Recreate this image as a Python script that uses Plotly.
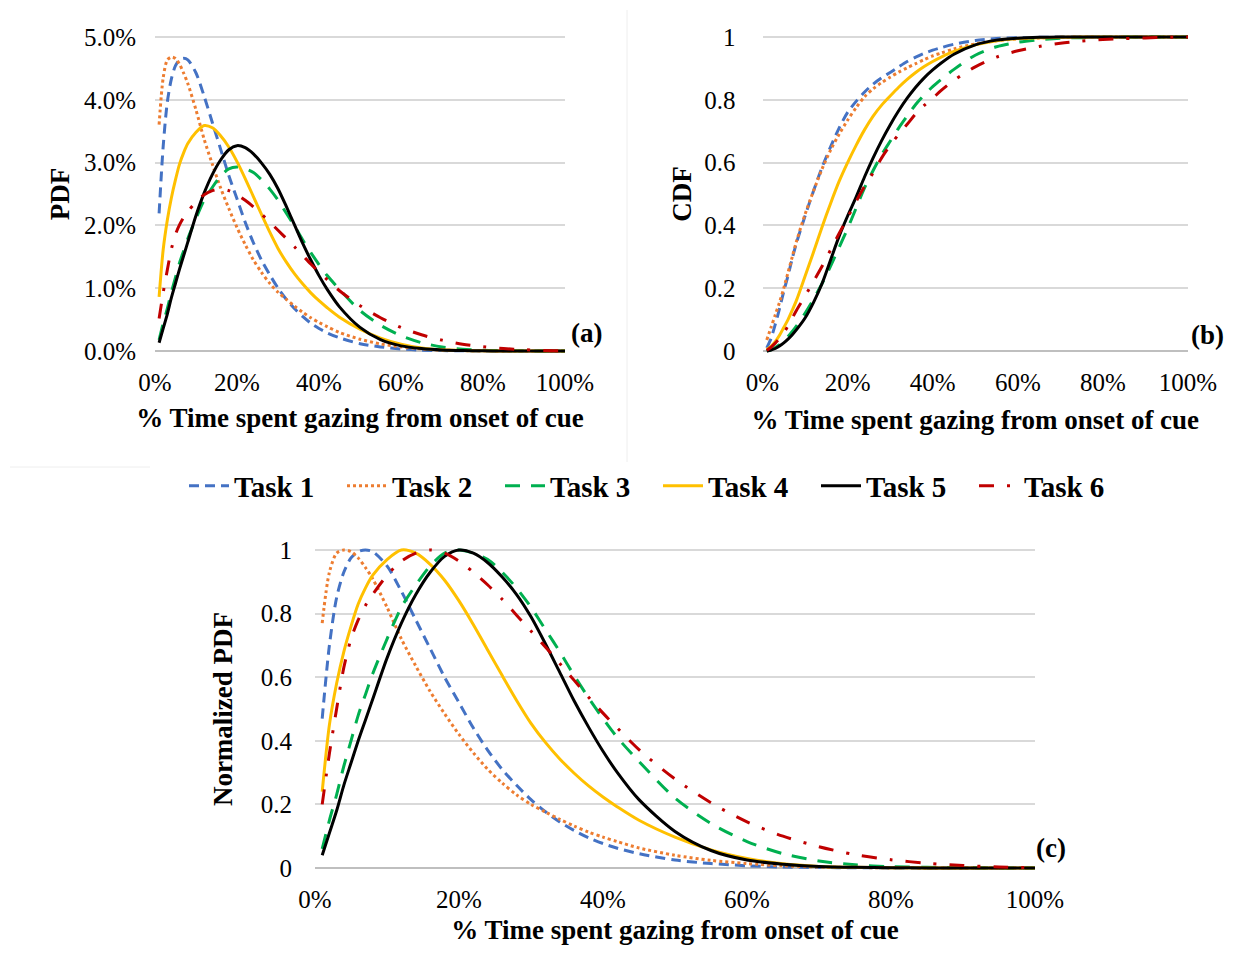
import plotly.graph_objects as go

# page offset of the plot inside the browser (body margin) -> work in page pixels
OFF = 8
W, H = 1234 - 2 * OFF, 953 - 2 * OFF

# ---------------- data ----------------
x_pct = [1, 2, 3, 4, 5, 6, 7, 8, 10, 12, 14, 16, 18, 20, 22, 24, 26, 28, 30, 32, 34,
         36, 38, 40, 42, 45, 50, 55, 60, 65, 70, 75, 80, 85, 90, 95, 100]

tasks = ["Task 1", "Task 2", "Task 3", "Task 4", "Task 5", "Task 6"]

# normalized PDF (panel c)
norm_task1 = [0.47, 0.70, 0.85, 0.93, 0.975, 0.995, 1.0, 0.995, 0.95, 0.87, 0.78, 0.69, 0.60, 0.52,
              0.44, 0.37, 0.31, 0.26, 0.215, 0.177, 0.145, 0.118, 0.095, 0.077, 0.062, 0.045, 0.025,
              0.014, 0.007, 0.003, 0.0015, 0.0007, 0.0003, 0.0001, 0.0, 0.0, 0.0]
norm_task2 = [0.77, 0.93, 0.99, 1.0, 0.995, 0.975, 0.945, 0.91, 0.82, 0.72, 0.635, 0.555, 0.485, 0.42,
              0.362, 0.31, 0.267, 0.23, 0.20, 0.176, 0.153, 0.132, 0.113, 0.097, 0.083, 0.063, 0.04,
              0.024, 0.014, 0.007, 0.003, 0.0015, 0.0007, 0.0003, 0.0001, 0.0, 0.0]
norm_task3 = [0.06, 0.15, 0.23, 0.32, 0.40, 0.48, 0.545, 0.61, 0.72, 0.82, 0.89, 0.95, 0.99, 1.0,
              0.99, 0.97, 0.93, 0.88, 0.82, 0.75, 0.68, 0.605, 0.535, 0.47, 0.41, 0.335, 0.22,
              0.14, 0.083, 0.045, 0.022, 0.01, 0.004, 0.002, 0.001, 0.0, 0.0]
norm_task4 = [0.24, 0.45, 0.58, 0.68, 0.76, 0.83, 0.88, 0.92, 0.97, 1.0, 0.99, 0.955, 0.905, 0.84,
              0.765, 0.685, 0.605, 0.527, 0.455, 0.395, 0.343, 0.298, 0.258, 0.223, 0.192, 0.15, 0.097,
              0.057, 0.03, 0.013, 0.005, 0.002, 0.001, 0.0, 0.0, 0.0, 0.0]
norm_task5 = [0.04, 0.11, 0.18, 0.26, 0.33, 0.40, 0.465, 0.53, 0.66, 0.77, 0.86, 0.93, 0.98, 1.0,
              0.99, 0.96, 0.915, 0.86, 0.79, 0.705, 0.615, 0.525, 0.443, 0.367, 0.3, 0.215, 0.115,
              0.055, 0.025, 0.012, 0.005, 0.002, 0.001, 0.0, 0.0, 0.0, 0.0]
norm_task6 = [0.20, 0.36, 0.50, 0.63, 0.72, 0.78, 0.825, 0.86, 0.92, 0.965, 0.99, 1.0, 0.99, 0.965,
              0.93, 0.89, 0.845, 0.795, 0.745, 0.695, 0.643, 0.59, 0.537, 0.487, 0.44, 0.372, 0.28,
              0.205, 0.145, 0.10, 0.067, 0.042, 0.026, 0.015, 0.008, 0.003, 0.001]

# peak height of each PDF in panel (a), in percent
pdf_peak_pct = [4.66, 4.68, 2.93, 3.59, 3.27, 2.58]

# CDF (panel b)
cdf_task1 = [0.01, 0.04, 0.085, 0.135, 0.19, 0.24, 0.295, 0.345, 0.43, 0.51, 0.585, 0.65, 0.71, 0.76,
             0.795, 0.825, 0.85, 0.87, 0.887, 0.905, 0.922, 0.936, 0.948, 0.958, 0.966, 0.977, 0.989,
             0.995, 0.998, 0.999, 1.0, 1.0, 1.0, 1.0, 1.0, 1.0, 1.0]
cdf_task2 = [0.035, 0.075, 0.115, 0.155, 0.20, 0.25, 0.30, 0.35, 0.435, 0.51, 0.58, 0.64, 0.69, 0.735,
             0.775, 0.81, 0.835, 0.855, 0.872, 0.888, 0.902, 0.915, 0.928, 0.94, 0.949, 0.962, 0.978,
             0.988, 0.994, 0.997, 0.999, 1.0, 1.0, 1.0, 1.0, 1.0, 1.0]
cdf_task3 = [0.0, 0.004, 0.011, 0.02, 0.032, 0.046, 0.062, 0.08, 0.12, 0.165, 0.215, 0.27, 0.33, 0.39,
             0.455, 0.52, 0.575, 0.625, 0.668, 0.71, 0.748, 0.785, 0.815, 0.842, 0.865, 0.897, 0.942,
             0.969, 0.983, 0.991, 0.996, 0.998, 0.999, 1.0, 1.0, 1.0, 1.0]
cdf_task4 = [0.004, 0.015, 0.03, 0.05, 0.075, 0.10, 0.13, 0.162, 0.238, 0.315, 0.395, 0.47, 0.54, 0.60,
             0.655, 0.705, 0.748, 0.783, 0.812, 0.84, 0.865, 0.887, 0.906, 0.922, 0.936, 0.954, 0.975,
             0.988, 0.995, 0.998, 0.999, 1.0, 1.0, 1.0, 1.0, 1.0, 1.0]
cdf_task5 = [0.0, 0.003, 0.008, 0.016, 0.026, 0.038, 0.052, 0.068, 0.105, 0.155, 0.215, 0.29, 0.365, 0.43,
             0.49, 0.555, 0.615, 0.67, 0.72, 0.765, 0.805, 0.84, 0.87, 0.895, 0.917, 0.945, 0.975,
             0.99, 0.996, 0.999, 1.0, 1.0, 1.0, 1.0, 1.0, 1.0, 1.0]
cdf_task6 = [0.002, 0.012, 0.025, 0.04, 0.058, 0.08, 0.105, 0.13, 0.175, 0.222, 0.27, 0.322, 0.374, 0.425,
             0.476, 0.525, 0.568, 0.615, 0.655, 0.69, 0.722, 0.755, 0.782, 0.805, 0.83, 0.862, 0.905,
             0.936, 0.956, 0.97, 0.98, 0.987, 0.992, 0.995, 0.997, 0.999, 1.0]

norms = [norm_task1, norm_task2, norm_task3, norm_task4, norm_task5, norm_task6]
cdfs = [cdf_task1, cdf_task2, cdf_task3, cdf_task4, cdf_task5, cdf_task6]

x_tickvals = [0, 20, 40, 60, 80, 100]
x_ticktext = ["0%", "20%", "40%", "60%", "80%", "100%"]
pdf_tickvals = [0, 0.01, 0.02, 0.03, 0.04, 0.05]
unit_tickvals = [0, 0.2, 0.4, 0.6, 0.8, 1.0]

# ---------------- styles ----------------
colors = ["#4472C4", "#ED7D31", "#00B050", "#FFC000", "#000000", "#C00000"]
dashes = ["10px,6px", "3px,3px", "15px,11px", "solid", "solid", "15px,13px,3px,13px"]
FONT = "Liberation Serif"
GRID = "#d9d9d9"


def px_x(px):
    # page pixel -> paper fraction
    return (px - OFF) / W


def px_y(py):
    return (H - (py - OFF)) / H


def xdom(px0, px1):
    return [px_x(px0), px_x(px1)]


def ydom(py_lo, py_hi, pad):
    span = py_lo - py_hi
    return [px_y(py_lo + pad * span), px_y(py_hi - pad * span)]


PAD = 0.012

fig = go.Figure()

for i, name in enumerate(tasks):
    pdf_vals = [v * pdf_peak_pct[i] / 100.0 for v in norms[i]]
    line = dict(color=colors[i], width=3, dash=dashes[i], shape="spline", smoothing=0.8)
    fig.add_trace(go.Scatter(x=x_pct, y=pdf_vals, mode="lines", name=name, line=line,
                             xaxis="x", yaxis="y", showlegend=True))
    fig.add_trace(go.Scatter(x=x_pct, y=cdfs[i], mode="lines", name=name, line=line,
                             xaxis="x2", yaxis="y2", showlegend=False))
    fig.add_trace(go.Scatter(x=x_pct, y=norms[i], mode="lines", name=name, line=line,
                             xaxis="x3", yaxis="y3", showlegend=False))

tickfont = dict(family=FONT, size=25, color="black")
titlefont = dict(family=FONT, size=27, color="black", weight="bold")

xcommon = dict(range=[0, 100], tickmode="array", tickvals=x_tickvals, ticktext=x_ticktext,
               showgrid=False, zeroline=False, showline=False, ticks="", tickfont=tickfont,
               ticklabelstandoff=10, fixedrange=True, automargin=False)
ycommon = dict(showgrid=True, gridcolor=GRID, gridwidth=1.6, zeroline=True,
               zerolinecolor="#bfbfbf", zerolinewidth=1.6, showline=False, ticks="",
               tickfont=tickfont, fixedrange=True, automargin=False)

x_title = "% Time spent gazing from onset of cue"

fig.update_layout(
    width=W, height=H,
    autosize=False,
    margin=dict(l=0, r=0, t=0, b=0, pad=0),
    paper_bgcolor="white", plot_bgcolor="white",
    font=dict(family=FONT, color="black"),
    xaxis=dict(xcommon, domain=xdom(155, 565), anchor="y",
               title=dict(text=x_title, font=titlefont, standoff=13)),
    yaxis=dict(ycommon, domain=ydom(351, 37, PAD), anchor="x",
               range=[-PAD * 0.05, 0.05 * (1 + PAD)], tickvals=pdf_tickvals, tickformat=".1%",
               ticklabelstandoff=18,
               title=dict(text="PDF", font=titlefont, standoff=6)),
    xaxis2=dict(xcommon, domain=xdom(762.5, 1188), anchor="y2",
                title=dict(text=x_title, font=titlefont, standoff=15)),
    yaxis2=dict(ycommon, domain=ydom(351, 37, PAD), anchor="x2",
                range=[-PAD, 1 + PAD], tickvals=unit_tickvals,
                ticklabelstandoff=26,
                title=dict(text="CDF", font=titlefont, standoff=4)),
    xaxis3=dict(xcommon, domain=xdom(315, 1035), anchor="y3",
                title=dict(text=x_title, font=titlefont, standoff=16)),
    yaxis3=dict(ycommon, domain=ydom(868, 550, PAD), anchor="x3",
                range=[-PAD, 1 + PAD], tickvals=unit_tickvals,
                ticklabelstandoff=22,
                title=dict(text="Normalized PDF", font=titlefont, standoff=20)),
    legend=dict(orientation="h", x=px_x(658), xanchor="center", y=px_y(486), yanchor="middle",
                font=dict(family=FONT, size=29, color="black", weight="bold"),
                entrywidth=103, entrywidthmode="pixels", itemwidth=40,
                bgcolor="rgba(0,0,0,0)", traceorder="normal"),
    showlegend=True,
)

labels = [("(a)", 586, 333), ("(b)", 1207, 335), ("(c)", 1051, 848)]
for txt, px, py in labels:
    fig.add_annotation(text=txt, x=px_x(px), y=px_y(py), xref="paper", yref="paper",
                       showarrow=False, xanchor="center", yanchor="middle",
                       font=dict(family=FONT, size=27, color="black", weight="bold"))

# faint panel separators seen in the composite figure
fig.add_shape(type="line", xref="paper", yref="paper", x0=px_x(627), x1=px_x(627),
              y0=px_y(10), y1=px_y(462), line=dict(color="#eeeeee", width=1))
fig.add_shape(type="line", xref="paper", yref="paper", x0=px_x(10), x1=px_x(150),
              y0=px_y(467), y1=px_y(467), line=dict(color="#eeeeee", width=1))

fig.write_html("out.html")
